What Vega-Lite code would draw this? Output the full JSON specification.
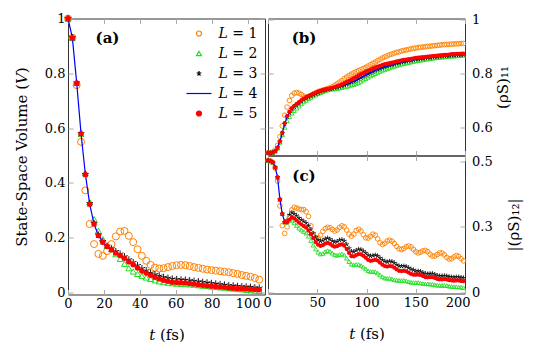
{
"$schema":"https://vega.github.io/schema/vega-lite/v6.json",
"padding":{"left":13,"top":11.5,"right":2,"bottom":2},
"background":"white",
"config":{
 "font":"DejaVu Serif",
 "view":{"stroke":"#333333","strokeWidth":1},
 "axis":{"domain":false,"grid":false,"ticks":true,"tickColor":"#aaaaaa","tickSize":-5,"tickWidth":1,"labelFont":"DejaVu Serif","labelFontSize":13,"labelColor":"#000000","titleFont":"DejaVu Serif","titleFontSize":15,"titleFontWeight":"normal","titleColor":"#000000","labelFlush":false,"labelOverlap":false,"labelPadding":8,"format":"~r"}
},
"datasets":{
"A":[
{"t":0,"L1":1,"L2":1,"L3":1,"L4":1,"L5":1},
{"t":2.42,"L1":0.93,"L2":0.93,"L3":0.93,"L4":0.93,"L5":0.93},
{"t":4.84,"L1":0.757,"L2":0.765,"L3":0.765,"L4":0.765,"L5":0.765},
{"t":7.26,"L1":0.55,"L2":0.58,"L3":0.58,"L4":0.58,"L5":0.58},
{"t":9.68,"L1":0.373,"L2":0.435,"L3":0.431,"L4":0.431,"L5":0.431},
{"t":12.1,"L1":0.25,"L2":0.33,"L3":0.325,"L4":0.322,"L5":0.322},
{"t":14.52,"L1":0.177,"L2":0.268,"L3":0.252,"L4":0.25,"L5":0.25},
{"t":16.94,"L1":0.141,"L2":0.225,"L3":0.21,"L4":0.208,"L5":0.208},
{"t":19.36,"L1":0.134,"L2":0.195,"L3":0.186,"L4":0.184,"L5":0.184},
{"t":21.78,"L1":0.151,"L2":0.171,"L3":0.17,"L4":0.168,"L5":0.168},
{"t":24.2,"L1":0.177,"L2":0.158,"L3":0.16,"L4":0.156,"L5":0.156},
{"t":26.62,"L1":0.205,"L2":0.14,"L3":0.15,"L4":0.144,"L5":0.144},
{"t":29.04,"L1":0.223,"L2":0.123,"L3":0.141,"L4":0.135,"L5":0.135},
{"t":31.46,"L1":0.225,"L2":0.105,"L3":0.131,"L4":0.125,"L5":0.125},
{"t":33.88,"L1":0.207,"L2":0.089,"L3":0.12,"L4":0.112,"L5":0.112},
{"t":36.3,"L1":0.184,"L2":0.077,"L3":0.11,"L4":0.102,"L5":0.102},
{"t":38.72,"L1":0.158,"L2":0.068,"L3":0.099,"L4":0.09,"L5":0.09},
{"t":41.14,"L1":0.134,"L2":0.061,"L3":0.088,"L4":0.079,"L5":0.079},
{"t":43.56,"L1":0.116,"L2":0.055,"L3":0.08,"L4":0.071,"L5":0.071},
{"t":45.98,"L1":0.101,"L2":0.05,"L3":0.072,"L4":0.063,"L5":0.063},
{"t":48.4,"L1":0.091,"L2":0.045,"L3":0.066,"L4":0.056,"L5":0.056},
{"t":50.82,"L1":0.088,"L2":0.041,"L3":0.061,"L4":0.05,"L5":0.05},
{"t":53.24,"L1":0.089,"L2":0.038,"L3":0.056,"L4":0.045,"L5":0.045},
{"t":55.66,"L1":0.093,"L2":0.036,"L3":0.053,"L4":0.041,"L5":0.041},
{"t":58.08,"L1":0.097,"L2":0.034,"L3":0.05,"L4":0.038,"L5":0.038},
{"t":60.5,"L1":0.1,"L2":0.033,"L3":0.048,"L4":0.037,"L5":0.037},
{"t":62.92,"L1":0.101,"L2":0.032,"L3":0.047,"L4":0.036,"L5":0.036},
{"t":65.34,"L1":0.1,"L2":0.031,"L3":0.046,"L4":0.035,"L5":0.035},
{"t":67.76,"L1":0.097,"L2":0.03,"L3":0.044,"L4":0.033,"L5":0.033},
{"t":70.18,"L1":0.093,"L2":0.029,"L3":0.042,"L4":0.031,"L5":0.031},
{"t":72.6,"L1":0.09,"L2":0.027,"L3":0.04,"L4":0.029,"L5":0.029},
{"t":75.02,"L1":0.087,"L2":0.025,"L3":0.038,"L4":0.027,"L5":0.027},
{"t":77.44,"L1":0.084,"L2":0.024,"L3":0.036,"L4":0.025,"L5":0.025},
{"t":79.86,"L1":0.082,"L2":0.022,"L3":0.034,"L4":0.023,"L5":0.023},
{"t":82.28,"L1":0.08,"L2":0.021,"L3":0.032,"L4":0.022,"L5":0.022},
{"t":84.7,"L1":0.078,"L2":0.019,"L3":0.03,"L4":0.02,"L5":0.02},
{"t":87.12,"L1":0.076,"L2":0.018,"L3":0.028,"L4":0.019,"L5":0.019},
{"t":89.54,"L1":0.074,"L2":0.016,"L3":0.026,"L4":0.017,"L5":0.017},
{"t":91.96,"L1":0.071,"L2":0.015,"L3":0.025,"L4":0.016,"L5":0.016},
{"t":94.38,"L1":0.068,"L2":0.013,"L3":0.023,"L4":0.015,"L5":0.015},
{"t":96.8,"L1":0.064,"L2":0.012,"L3":0.022,"L4":0.014,"L5":0.014},
{"t":99.22,"L1":0.061,"L2":0.01,"L3":0.021,"L4":0.013,"L5":0.013},
{"t":101.64,"L1":0.058,"L2":0.009,"L3":0.02,"L4":0.012,"L5":0.012},
{"t":104.06,"L1":0.053,"L2":0.007,"L3":0.018,"L4":0.011,"L5":0.011},
{"t":106.48,"L1":0.047,"L2":0.006,"L3":0.017,"L4":0.01,"L5":0.01}
],
"B":[
{"t":0,"b1":0.505,"b2":0.505,"b3":0.505,"b4":0.505,"b5":0.505,"c1":0.504,"c2":0.504,"c3":0.504,"c4":0.504,"c5":0.504},
{"t":2.42,"b1":0.505,"b2":0.505,"b3":0.505,"b4":0.505,"b5":0.505,"c1":0.502,"c2":0.502,"c3":0.502,"c4":0.502,"c5":0.502},
{"t":4.84,"b1":0.508,"b2":0.506,"b3":0.506,"b4":0.506,"b5":0.506,"c1":0.496,"c2":0.497,"c3":0.497,"c4":0.497,"c5":0.497},
{"t":7.26,"b1":0.515,"b2":0.511,"b3":0.511,"b4":0.511,"b5":0.511,"c1":0.475,"c2":0.478,"c3":0.478,"c4":0.478,"c5":0.478},
{"t":9.68,"b1":0.533,"b2":0.522,"b3":0.524,"b4":0.524,"b5":0.524,"c1":0.425,"c2":0.44,"c3":0.44,"c4":0.44,"c5":0.44},
{"t":12.1,"b1":0.565,"b2":0.544,"b3":0.547,"b4":0.548,"b5":0.548,"c1":0.33,"c2":0.355,"c3":0.355,"c4":0.355,"c5":0.355},
{"t":14.52,"b1":0.605,"b2":0.572,"b3":0.578,"b4":0.579,"b5":0.58,"c1":0.255,"c2":0.3,"c3":0.3,"c4":0.3,"c5":0.3},
{"t":16.94,"b1":0.645,"b2":0.6,"b3":0.612,"b4":0.613,"b5":0.616,"c1":0.225,"c2":0.268,"c3":0.268,"c4":0.268,"c5":0.268},
{"t":19.36,"b1":0.675,"b2":0.624,"b3":0.638,"b4":0.639,"b5":0.642,"c1":0.25,"c2":0.268,"c3":0.275,"c4":0.268,"c5":0.268},
{"t":21.78,"b1":0.7,"b2":0.64,"b3":0.654,"b4":0.655,"b5":0.658,"c1":0.29,"c2":0.276,"c3":0.296,"c4":0.278,"c5":0.278},
{"t":24.2,"b1":0.718,"b2":0.652,"b3":0.667,"b4":0.668,"b5":0.671,"c1":0.315,"c2":0.275,"c3":0.305,"c4":0.287,"c5":0.287},
{"t":26.62,"b1":0.727,"b2":0.662,"b3":0.676,"b4":0.677,"b5":0.68,"c1":0.325,"c2":0.265,"c3":0.3,"c4":0.282,"c5":0.282},
{"t":29.04,"b1":0.729,"b2":0.671,"b3":0.683,"b4":0.684,"b5":0.687,"c1":0.322,"c2":0.255,"c3":0.293,"c4":0.275,"c5":0.275},
{"t":31.46,"b1":0.727,"b2":0.679,"b3":0.69,"b4":0.691,"b5":0.694,"c1":0.318,"c2":0.245,"c3":0.284,"c4":0.266,"c5":0.266},
{"t":33.88,"b1":0.722,"b2":0.687,"b3":0.697,"b4":0.698,"b5":0.701,"c1":0.316,"c2":0.238,"c3":0.277,"c4":0.259,"c5":0.259},
{"t":36.3,"b1":0.716,"b2":0.694,"b3":0.703,"b4":0.704,"b5":0.707,"c1":0.316,"c2":0.232,"c3":0.271,"c4":0.253,"c5":0.253},
{"t":38.72,"b1":0.712,"b2":0.7,"b3":0.708,"b4":0.709,"b5":0.712,"c1":0.308,"c2":0.226,"c3":0.265,"c4":0.247,"c5":0.247},
{"t":41.14,"b1":0.714,"b2":0.706,"b3":0.713,"b4":0.714,"b5":0.717,"c1":0.29,"c2":0.214,"c3":0.254,"c4":0.236,"c5":0.236},
{"t":43.56,"b1":0.719,"b2":0.711,"b3":0.717,"b4":0.718,"b5":0.721,"c1":0.254,"c2":0.198,"c3":0.24,"c4":0.222,"c5":0.222},
{"t":45.98,"b1":0.724,"b2":0.716,"b3":0.721,"b4":0.722,"b5":0.725,"c1":0.222,"c2":0.18,"c3":0.225,"c4":0.207,"c5":0.207},
{"t":48.4,"b1":0.728,"b2":0.72,"b3":0.725,"b4":0.726,"b5":0.729,"c1":0.208,"c2":0.165,"c3":0.21,"c4":0.192,"c5":0.192},
{"t":50.82,"b1":0.733,"b2":0.725,"b3":0.729,"b4":0.729,"b5":0.733,"c1":0.208,"c2":0.153,"c3":0.2,"c4":0.182,"c5":0.182},
{"t":53.24,"b1":0.736,"b2":0.729,"b3":0.733,"b4":0.733,"b5":0.736,"c1":0.218,"c2":0.146,"c3":0.195,"c4":0.177,"c5":0.177},
{"t":55.66,"b1":0.738,"b2":0.733,"b3":0.736,"b4":0.736,"b5":0.739,"c1":0.233,"c2":0.148,"c3":0.198,"c4":0.18,"c5":0.18},
{"t":58.08,"b1":0.741,"b2":0.736,"b3":0.739,"b4":0.739,"b5":0.741,"c1":0.243,"c2":0.155,"c3":0.204,"c4":0.186,"c5":0.186},
{"t":60.5,"b1":0.744,"b2":0.739,"b3":0.741,"b4":0.741,"b5":0.743,"c1":0.248,"c2":0.159,"c3":0.207,"c4":0.189,"c5":0.189},
{"t":62.92,"b1":0.747,"b2":0.741,"b3":0.743,"b4":0.743,"b5":0.745,"c1":0.247,"c2":0.156,"c3":0.203,"c4":0.185,"c5":0.185},
{"t":65.34,"b1":0.751,"b2":0.742,"b3":0.745,"b4":0.745,"b5":0.747,"c1":0.24,"c2":0.149,"c3":0.196,"c4":0.178,"c5":0.178},
{"t":67.76,"b1":0.756,"b2":0.743,"b3":0.747,"b4":0.747,"b5":0.75,"c1":0.234,"c2":0.143,"c3":0.192,"c4":0.174,"c5":0.174},
{"t":70.18,"b1":0.762,"b2":0.744,"b3":0.749,"b4":0.749,"b5":0.753,"c1":0.238,"c2":0.141,"c3":0.194,"c4":0.176,"c5":0.176},
{"t":72.6,"b1":0.768,"b2":0.746,"b3":0.751,"b4":0.751,"b5":0.756,"c1":0.248,"c2":0.144,"c3":0.199,"c4":0.181,"c5":0.181},
{"t":75.02,"b1":0.774,"b2":0.748,"b3":0.754,"b4":0.754,"b5":0.76,"c1":0.254,"c2":0.146,"c3":0.201,"c4":0.183,"c5":0.183},
{"t":77.44,"b1":0.781,"b2":0.75,"b3":0.757,"b4":0.757,"b5":0.764,"c1":0.25,"c2":0.142,"c3":0.196,"c4":0.178,"c5":0.178},
{"t":79.86,"b1":0.787,"b2":0.752,"b3":0.761,"b4":0.761,"b5":0.769,"c1":0.238,"c2":0.13,"c3":0.183,"c4":0.165,"c5":0.165},
{"t":82.28,"b1":0.793,"b2":0.754,"b3":0.764,"b4":0.764,"b5":0.773,"c1":0.222,"c2":0.117,"c3":0.168,"c4":0.15,"c5":0.15},
{"t":84.7,"b1":0.798,"b2":0.757,"b3":0.768,"b4":0.768,"b5":0.778,"c1":0.214,"c2":0.107,"c3":0.156,"c4":0.138,"c5":0.138},
{"t":87.12,"b1":0.803,"b2":0.759,"b3":0.771,"b4":0.771,"b5":0.783,"c1":0.222,"c2":0.104,"c3":0.155,"c4":0.137,"c5":0.137},
{"t":89.54,"b1":0.807,"b2":0.762,"b3":0.775,"b4":0.775,"b5":0.788,"c1":0.236,"c2":0.106,"c3":0.16,"c4":0.142,"c5":0.142},
{"t":91.96,"b1":0.811,"b2":0.766,"b3":0.78,"b4":0.78,"b5":0.793,"c1":0.241,"c2":0.106,"c3":0.164,"c4":0.146,"c5":0.146},
{"t":94.38,"b1":0.815,"b2":0.771,"b3":0.785,"b4":0.785,"b5":0.798,"c1":0.234,"c2":0.102,"c3":0.163,"c4":0.145,"c5":0.145},
{"t":96.8,"b1":0.819,"b2":0.776,"b3":0.789,"b4":0.789,"b5":0.802,"c1":0.22,"c2":0.096,"c3":0.157,"c4":0.139,"c5":0.139},
{"t":99.22,"b1":0.823,"b2":0.781,"b3":0.794,"b4":0.794,"b5":0.807,"c1":0.208,"c2":0.089,"c3":0.15,"c4":0.132,"c5":0.132},
{"t":101.64,"b1":0.828,"b2":0.786,"b3":0.799,"b4":0.799,"b5":0.811,"c1":0.207,"c2":0.082,"c3":0.142,"c4":0.124,"c5":0.124},
{"t":104.06,"b1":0.833,"b2":0.791,"b3":0.803,"b4":0.803,"b5":0.815,"c1":0.214,"c2":0.079,"c3":0.138,"c4":0.12,"c5":0.12},
{"t":106.48,"b1":0.838,"b2":0.796,"b3":0.808,"b4":0.808,"b5":0.819,"c1":0.222,"c2":0.079,"c3":0.14,"c4":0.122,"c5":0.122},
{"t":108.9,"b1":0.843,"b2":0.8,"b3":0.812,"b4":0.812,"b5":0.823,"c1":0.218,"c2":0.078,"c3":0.142,"c4":0.124,"c5":0.124},
{"t":111.32,"b1":0.848,"b2":0.804,"b3":0.815,"b4":0.815,"b5":0.826,"c1":0.204,"c2":0.073,"c3":0.139,"c4":0.121,"c5":0.121},
{"t":113.74,"b1":0.853,"b2":0.808,"b3":0.819,"b4":0.819,"b5":0.829,"c1":0.189,"c2":0.066,"c3":0.131,"c4":0.113,"c5":0.113},
{"t":116.16,"b1":0.858,"b2":0.812,"b3":0.822,"b4":0.822,"b5":0.832,"c1":0.182,"c2":0.059,"c3":0.123,"c4":0.105,"c5":0.105},
{"t":118.58,"b1":0.862,"b2":0.815,"b3":0.825,"b4":0.825,"b5":0.835,"c1":0.187,"c2":0.054,"c3":0.118,"c4":0.1,"c5":0.1},
{"t":121,"b1":0.866,"b2":0.818,"b3":0.828,"b4":0.828,"b5":0.837,"c1":0.196,"c2":0.053,"c3":0.116,"c4":0.098,"c5":0.098},
{"t":123.42,"b1":0.87,"b2":0.821,"b3":0.83,"b4":0.83,"b5":0.839,"c1":0.199,"c2":0.053,"c3":0.118,"c4":0.1,"c5":0.1},
{"t":125.84,"b1":0.873,"b2":0.824,"b3":0.833,"b4":0.833,"b5":0.841,"c1":0.195,"c2":0.051,"c3":0.117,"c4":0.099,"c5":0.099},
{"t":128.26,"b1":0.876,"b2":0.827,"b3":0.835,"b4":0.835,"b5":0.843,"c1":0.186,"c2":0.047,"c3":0.112,"c4":0.094,"c5":0.094},
{"t":130.68,"b1":0.879,"b2":0.83,"b3":0.838,"b4":0.838,"b5":0.845,"c1":0.175,"c2":0.046,"c3":0.105,"c4":0.087,"c5":0.087},
{"t":133.1,"b1":0.881,"b2":0.832,"b3":0.84,"b4":0.84,"b5":0.847,"c1":0.166,"c2":0.045,"c3":0.1,"c4":0.082,"c5":0.082},
{"t":135.52,"b1":0.884,"b2":0.835,"b3":0.842,"b4":0.842,"b5":0.849,"c1":0.163,"c2":0.045,"c3":0.099,"c4":0.081,"c5":0.081},
{"t":137.94,"b1":0.886,"b2":0.837,"b3":0.844,"b4":0.844,"b5":0.851,"c1":0.167,"c2":0.045,"c3":0.1,"c4":0.082,"c5":0.082},
{"t":140.36,"b1":0.888,"b2":0.839,"b3":0.846,"b4":0.846,"b5":0.852,"c1":0.174,"c2":0.043,"c3":0.098,"c4":0.08,"c5":0.08},
{"t":142.78,"b1":0.89,"b2":0.841,"b3":0.848,"b4":0.848,"b5":0.854,"c1":0.177,"c2":0.04,"c3":0.093,"c4":0.075,"c5":0.075},
{"t":145.2,"b1":0.892,"b2":0.843,"b3":0.849,"b4":0.849,"b5":0.855,"c1":0.173,"c2":0.038,"c3":0.088,"c4":0.07,"c5":0.07},
{"t":147.62,"b1":0.894,"b2":0.845,"b3":0.851,"b4":0.851,"b5":0.857,"c1":0.164,"c2":0.037,"c3":0.085,"c4":0.067,"c5":0.067},
{"t":150.04,"b1":0.895,"b2":0.847,"b3":0.853,"b4":0.853,"b5":0.858,"c1":0.155,"c2":0.037,"c3":0.08,"c4":0.063,"c5":0.067},
{"t":152.46,"b1":0.897,"b2":0.848,"b3":0.854,"b4":0.854,"b5":0.859,"c1":0.15,"c2":0.037,"c3":0.081,"c4":0.064,"c5":0.068},
{"t":154.88,"b1":0.898,"b2":0.85,"b3":0.855,"b4":0.855,"b5":0.86,"c1":0.153,"c2":0.035,"c3":0.079,"c4":0.062,"c5":0.066},
{"t":157.3,"b1":0.899,"b2":0.851,"b3":0.856,"b4":0.856,"b5":0.861,"c1":0.158,"c2":0.033,"c3":0.075,"c4":0.058,"c5":0.062},
{"t":159.72,"b1":0.9,"b2":0.853,"b3":0.858,"b4":0.858,"b5":0.862,"c1":0.16,"c2":0.032,"c3":0.071,"c4":0.054,"c5":0.058},
{"t":162.14,"b1":0.901,"b2":0.854,"b3":0.859,"b4":0.859,"b5":0.863,"c1":0.155,"c2":0.032,"c3":0.07,"c4":0.053,"c5":0.057},
{"t":164.56,"b1":0.902,"b2":0.855,"b3":0.86,"b4":0.86,"b5":0.864,"c1":0.145,"c2":0.031,"c3":0.071,"c4":0.054,"c5":0.058},
{"t":166.98,"b1":0.903,"b2":0.857,"b3":0.861,"b4":0.861,"b5":0.865,"c1":0.138,"c2":0.03,"c3":0.071,"c4":0.054,"c5":0.058},
{"t":169.4,"b1":0.904,"b2":0.858,"b3":0.862,"b4":0.862,"b5":0.866,"c1":0.138,"c2":0.028,"c3":0.068,"c4":0.051,"c5":0.055},
{"t":171.82,"b1":0.905,"b2":0.859,"b3":0.863,"b4":0.863,"b5":0.867,"c1":0.144,"c2":0.027,"c3":0.064,"c4":0.047,"c5":0.051},
{"t":174.24,"b1":0.906,"b2":0.86,"b3":0.864,"b4":0.864,"b5":0.868,"c1":0.15,"c2":0.026,"c3":0.062,"c4":0.045,"c5":0.049},
{"t":176.66,"b1":0.907,"b2":0.861,"b3":0.865,"b4":0.865,"b5":0.869,"c1":0.15,"c2":0.026,"c3":0.062,"c4":0.045,"c5":0.049},
{"t":179.08,"b1":0.908,"b2":0.862,"b3":0.866,"b4":0.866,"b5":0.87,"c1":0.143,"c2":0.026,"c3":0.063,"c4":0.046,"c5":0.05},
{"t":181.5,"b1":0.908,"b2":0.863,"b3":0.866,"b4":0.866,"b5":0.87,"c1":0.133,"c2":0.025,"c3":0.062,"c4":0.045,"c5":0.049},
{"t":183.92,"b1":0.909,"b2":0.864,"b3":0.867,"b4":0.867,"b5":0.871,"c1":0.127,"c2":0.023,"c3":0.059,"c4":0.042,"c5":0.046},
{"t":186.34,"b1":0.91,"b2":0.865,"b3":0.868,"b4":0.868,"b5":0.872,"c1":0.128,"c2":0.022,"c3":0.058,"c4":0.041,"c5":0.045},
{"t":188.76,"b1":0.91,"b2":0.865,"b3":0.868,"b4":0.868,"b5":0.872,"c1":0.135,"c2":0.021,"c3":0.057,"c4":0.04,"c5":0.044},
{"t":191.18,"b1":0.911,"b2":0.866,"b3":0.869,"b4":0.869,"b5":0.873,"c1":0.14,"c2":0.021,"c3":0.058,"c4":0.041,"c5":0.045},
{"t":193.6,"b1":0.911,"b2":0.866,"b3":0.869,"b4":0.869,"b5":0.873,"c1":0.137,"c2":0.02,"c3":0.058,"c4":0.041,"c5":0.045},
{"t":196.02,"b1":0.912,"b2":0.867,"b3":0.87,"b4":0.87,"b5":0.874,"c1":0.128,"c2":0.019,"c3":0.056,"c4":0.039,"c5":0.043},
{"t":198.44,"b1":0.912,"b2":0.868,"b3":0.87,"b4":0.87,"b5":0.874,"c1":0.12,"c2":0.017,"c3":0.055,"c4":0.038,"c5":0.042}
]
},
"spacing":3,
"bounds":"flush",
"resolve":{"legend":{"stroke":"independent","fill":"independent","shape":"independent"}},
"hconcat":[
{
 "width":197,"height":276,
 "data":{"name":"A"},
 "resolve":{"axis":{"x":"independent","y":"independent"}},
 "layer":[
  {
   "transform":[{"fold":["L1","L2","L3","L4","L5"],"as":["L","v"]},{"filter":"datum.t < 0"}],
   "mark":{"type":"point","filled":false,"strokeWidth":1.2,"size":25,"opacity":1},
   "encoding":{
    "x":{"field":"t","type":"quantitative","scale":{"domain":[0,109.7],"nice":false,"zero":false},"axis":{"orient":"bottom","values":[0,20,40,60,80,100],"title":"𝑡 (fs)","titlePadding":17}},
    "y":{"field":"v","type":"quantitative","scale":{"domain":[-0.007,1],"nice":false,"zero":false},"axis":{"orient":"left","values":[0,0.2,0.4,0.6,0.8,1],"title":"State-Space Volume (𝑉)","titlePadding":15}},
    "stroke":{"field":"L","type":"nominal","scale":{"domain":["L1","L2","L3","L4","L5"],"range":["#ff8000","#22dd22","#000000","#0000ff","#ff0000"]},"legend":{"title":null,"orient":"none","legendX":124,"legendY":8,"padding":0,"rowPadding":6,"labelFont":"DejaVu Serif","labelFontSize":14,"labelColor":"#000000","labelOffset":12.5,"symbolStrokeWidth":1.2,"symbolSize":25,"labelExpr":"'𝐿 = ' + slice(datum.label, 1)"}},
    "fill":{"field":"L","type":"nominal","scale":{"domain":["L1","L2","L3","L4","L5"],"range":["transparent","transparent","transparent","transparent","#ff0000"]},"legend":{"title":null,"orient":"none","legendX":124,"legendY":8,"padding":0,"rowPadding":6,"labelFont":"DejaVu Serif","labelFontSize":14,"labelColor":"#000000","labelOffset":12.5,"symbolStrokeWidth":1.2,"symbolSize":25,"labelExpr":"'𝐿 = ' + slice(datum.label, 1)"}},
    "shape":{"field":"L","type":"nominal","scale":{"domain":["L1","L2","L3","L4","L5"],"range":["circle","triangle-up","M0,-1L0,0M0.951,-0.309L0,0M0.588,0.809L0,0M-0.588,0.809L0,0M-0.951,-0.309L0,0","M-5,0L5,0","circle"]},"legend":{"title":null,"orient":"none","legendX":124,"legendY":8,"padding":0,"rowPadding":6,"labelFont":"DejaVu Serif","labelFontSize":14,"labelColor":"#000000","labelOffset":12.5,"symbolStrokeWidth":1.2,"symbolSize":25,"labelExpr":"'𝐿 = ' + slice(datum.label, 1)"}}
   }
  },
  {
   "mark":{"type":"point","shape":"circle","filled":false,"color":"#ff8000","size":49,"strokeWidth":1,"opacity":1},
   "encoding":{
    "x":{"field":"t","type":"quantitative","scale":{"domain":[0,109.7],"nice":false,"zero":false},"axis":{"orient":"top","labels":false,"title":null,"values":[0,20,40,60,80,100]}},
    "y":{"field":"L1","type":"quantitative","scale":{"domain":[-0.007,1],"nice":false,"zero":false},"axis":{"orient":"right","labels":false,"title":null,"values":[0,0.2,0.4,0.6,0.8,1]}}
   }
  },
  {
   "mark":{"type":"point","shape":"triangle-up","filled":false,"color":"#22dd22","size":36,"strokeWidth":1,"opacity":1},
   "encoding":{
    "x":{"field":"t","type":"quantitative","scale":{"domain":[0,109.7],"nice":false,"zero":false},"axis":null},
    "y":{"field":"L2","type":"quantitative","scale":{"domain":[-0.007,1],"nice":false,"zero":false},"axis":null}
   }
  },
  {
   "mark":{"type":"point","shape":"M0,-1L0,0M0.951,-0.309L0,0M0.588,0.809L0,0M-0.588,0.809L0,0M-0.951,-0.309L0,0","filled":false,"color":"#000000","size":49,"strokeWidth":0.9,"opacity":1},
   "encoding":{
    "x":{"field":"t","type":"quantitative","scale":{"domain":[0,109.7],"nice":false,"zero":false},"axis":null},
    "y":{"field":"L3","type":"quantitative","scale":{"domain":[-0.007,1],"nice":false,"zero":false},"axis":null}
   }
  },
  {
   "mark":{"type":"line","color":"#0000ff","strokeWidth":1.2},
   "encoding":{
    "x":{"field":"t","type":"quantitative","scale":{"domain":[0,109.7],"nice":false,"zero":false},"axis":null},
    "y":{"field":"L4","type":"quantitative","scale":{"domain":[-0.007,1],"nice":false,"zero":false},"axis":null}
   }
  },
  {
   "mark":{"type":"point","shape":"circle","filled":true,"color":"#ff0000","size":30,"opacity":1},
   "encoding":{
    "x":{"field":"t","type":"quantitative","scale":{"domain":[0,109.7],"nice":false,"zero":false},"axis":null},
    "y":{"field":"L5","type":"quantitative","scale":{"domain":[-0.007,1],"nice":false,"zero":false},"axis":null}
   }
  },
  {
   "data":{"values":[{"panel":"(a)"}]},
   "mark":{"type":"text","font":"DejaVu Serif","fontWeight":"bold","fontSize":15,"color":"#000000"},
   "encoding":{
    "text":{"field":"panel"},
    "x":{"datum":22,"type":"quantitative","scale":{"domain":[0,109.7],"nice":false,"zero":false},"axis":null},
    "y":{"datum":0.929,"type":"quantitative","scale":{"domain":[-0.007,1],"nice":false,"zero":false},"axis":null}
   }
  }
 ]
},
{
 "spacing":0,
 "bounds":"flush",
 "vconcat":[
  {
   "width":197,"height":137,
   "data":{"name":"B"},
   "resolve":{"axis":{"x":"independent","y":"independent"}},
   "layer":[
    {
     "mark":{"type":"point","shape":"circle","filled":false,"color":"#ff8000","size":22,"strokeWidth":0.9,"opacity":1},
     "encoding":{
      "x":{"field":"t","type":"quantitative","scale":{"domain":[0,200],"nice":false,"zero":false},"axis":{"orient":"bottom","labels":false,"title":null,"values":[0,50,100,150,200]}},
      "y":{"field":"b1","type":"quantitative","scale":{"domain":[0.495,1.005],"nice":false,"zero":false},"axis":{"orient":"right","values":[0.6,0.8,1],"title":"(ρS)₁₁","titleAngle":270,"titleBaseline":"top","titleX":30,"minExtent":0,"labelPadding":11.5}}
     }
    },
    {
     "mark":{"type":"point","shape":"triangle-up","filled":false,"color":"#22dd22","size":18,"strokeWidth":0.9,"opacity":1},
     "encoding":{
      "x":{"field":"t","type":"quantitative","scale":{"domain":[0,200],"nice":false,"zero":false},"axis":{"orient":"top","labels":false,"title":null,"values":[0,50,100,150,200]}},
      "y":{"field":"b2","type":"quantitative","scale":{"domain":[0.495,1.005],"nice":false,"zero":false},"axis":{"orient":"left","labels":false,"title":null,"values":[0.6,0.8,1]}}
     }
    },
    {
     "mark":{"type":"point","shape":"M0,-1L0,0M0.951,-0.309L0,0M0.588,0.809L0,0M-0.588,0.809L0,0M-0.951,-0.309L0,0","filled":false,"color":"#000000","size":25,"strokeWidth":0.8,"opacity":1},
     "encoding":{
      "x":{"field":"t","type":"quantitative","scale":{"domain":[0,200],"nice":false,"zero":false},"axis":null},
      "y":{"field":"b3","type":"quantitative","scale":{"domain":[0.495,1.005],"nice":false,"zero":false},"axis":null}
     }
    },
    {
     "mark":{"type":"line","color":"#0000ff","strokeWidth":1.2},
     "encoding":{
      "x":{"field":"t","type":"quantitative","scale":{"domain":[0,200],"nice":false,"zero":false},"axis":null},
      "y":{"field":"b4","type":"quantitative","scale":{"domain":[0.495,1.005],"nice":false,"zero":false},"axis":null}
     }
    },
    {
     "mark":{"type":"point","shape":"circle","filled":true,"color":"#ff0000","size":18,"opacity":1},
     "encoding":{
      "x":{"field":"t","type":"quantitative","scale":{"domain":[0,200],"nice":false,"zero":false},"axis":null},
      "y":{"field":"b5","type":"quantitative","scale":{"domain":[0.495,1.005],"nice":false,"zero":false},"axis":null}
     }
    },
    {
     "data":{"values":[{"panel":"(b)"}]},
     "mark":{"type":"text","font":"DejaVu Serif","fontWeight":"bold","fontSize":15,"color":"#000000"},
     "encoding":{
      "text":{"field":"panel"},
      "x":{"datum":36.6,"type":"quantitative","scale":{"domain":[0,200],"nice":false,"zero":false},"axis":null},
      "y":{"datum":0.933,"type":"quantitative","scale":{"domain":[0.495,1.005],"nice":false,"zero":false},"axis":null}
     }
    }
   ]
  },
  {
   "width":197,"height":138,
   "data":{"name":"B"},
   "resolve":{"axis":{"x":"independent","y":"independent"}},
   "layer":[
    {
     "mark":{"type":"point","shape":"circle","filled":false,"color":"#ff8000","size":22,"strokeWidth":0.9,"opacity":1},
     "encoding":{
      "x":{"field":"t","type":"quantitative","scale":{"domain":[0,200],"nice":false,"zero":false},"axis":{"orient":"bottom","values":[0,50,100,150,200],"title":"𝑡 (fs)","titlePadding":17,"labelFlush":true,"labelFlushOffset":5}},
      "y":{"field":"c1","type":"quantitative","scale":{"domain":[-0.005,0.523],"nice":false,"zero":false},"axis":{"orient":"right","values":[0,0.25,0.5],"title":"|(ρS)₁₂|","titleAngle":270,"titleBaseline":"top","titleX":41,"minExtent":0,"labelPadding":11.5}}
     }
    },
    {
     "mark":{"type":"point","shape":"triangle-up","filled":false,"color":"#22dd22","size":18,"strokeWidth":0.9,"opacity":1},
     "encoding":{
      "x":{"field":"t","type":"quantitative","scale":{"domain":[0,200],"nice":false,"zero":false},"axis":{"orient":"top","labels":false,"title":null,"values":[0,50,100,150,200]}},
      "y":{"field":"c2","type":"quantitative","scale":{"domain":[-0.005,0.523],"nice":false,"zero":false},"axis":{"orient":"left","labels":false,"title":null,"values":[0,0.25,0.5]}}
     }
    },
    {
     "mark":{"type":"point","shape":"M0,-1L0,0M0.951,-0.309L0,0M0.588,0.809L0,0M-0.588,0.809L0,0M-0.951,-0.309L0,0","filled":false,"color":"#000000","size":25,"strokeWidth":0.8,"opacity":1},
     "encoding":{
      "x":{"field":"t","type":"quantitative","scale":{"domain":[0,200],"nice":false,"zero":false},"axis":null},
      "y":{"field":"c3","type":"quantitative","scale":{"domain":[-0.005,0.523],"nice":false,"zero":false},"axis":null}
     }
    },
    {
     "mark":{"type":"line","color":"#0000ff","strokeWidth":1.2},
     "encoding":{
      "x":{"field":"t","type":"quantitative","scale":{"domain":[0,200],"nice":false,"zero":false},"axis":null},
      "y":{"field":"c4","type":"quantitative","scale":{"domain":[-0.005,0.523],"nice":false,"zero":false},"axis":null}
     }
    },
    {
     "mark":{"type":"point","shape":"circle","filled":true,"color":"#ff0000","size":18,"opacity":1},
     "encoding":{
      "x":{"field":"t","type":"quantitative","scale":{"domain":[0,200],"nice":false,"zero":false},"axis":null},
      "y":{"field":"c5","type":"quantitative","scale":{"domain":[-0.005,0.523],"nice":false,"zero":false},"axis":null}
     }
    },
    {
     "data":{"values":[{"panel":"(c)"}]},
     "mark":{"type":"text","font":"DejaVu Serif","fontWeight":"bold","fontSize":15,"color":"#000000"},
     "encoding":{
      "text":{"field":"panel"},
      "x":{"datum":36.5,"type":"quantitative","scale":{"domain":[0,200],"nice":false,"zero":false},"axis":null},
      "y":{"datum":0.446,"type":"quantitative","scale":{"domain":[-0.005,0.523],"nice":false,"zero":false},"axis":null}
     }
    }
   ]
  }
 ]
}
]
}
